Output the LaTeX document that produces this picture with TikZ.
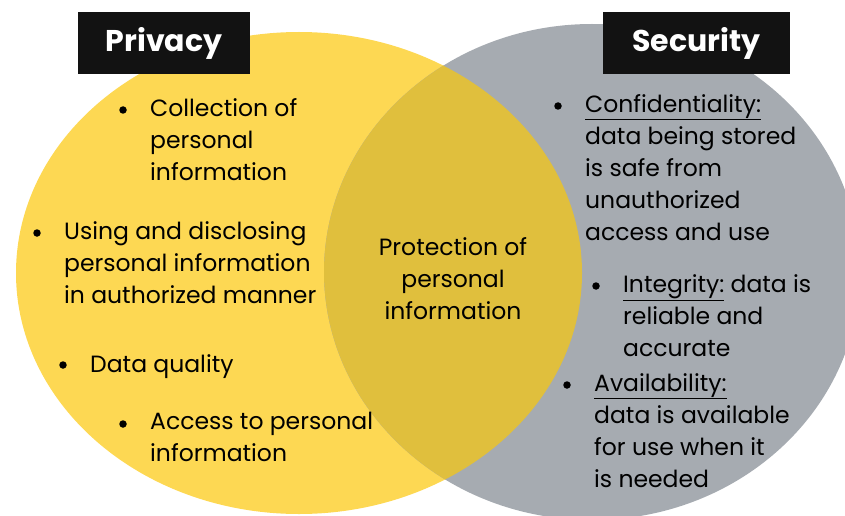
\documentclass[tikz,border=0pt]{standalone}
\usepackage{fontspec}
\setmainfont{Poppins}
\usepackage{xcolor}

\definecolor{privyellow}{HTML}{FDD853}
\definecolor{secgray}{HTML}{A6ABB1}
\definecolor{overlap}{HTML}{E0BF3D}
\definecolor{headblack}{HTML}{121212}

\newcommand{\bodyfont}{\fontsize{23.5}{32}\selectfont}
\newcommand{\headfont}{\fontsize{30}{36}\selectfont\bfseries}

\tikzset{
  head/.style={fill=headblack, text=white, font=\headfont, minimum height=62pt, inner sep=0pt},
  % first line gets a fixed height, so north sits 19pt above its baseline
  item/.style={anchor=north west, align=left, inner sep=0pt, font=\bodyfont,
    execute at begin node={\rule{0pt}{19pt}}},
  dotmark/.style={circle, fill=black, inner sep=0pt, minimum size=7.5pt}
}

\begin{document}
\begin{tikzpicture}[x=1pt,y=-1pt]
\useasboundingbox (0,0) rectangle (845,516);

% the two sets and their overlap
\fill[privyellow] (299,273) ellipse [x radius=283, y radius=241];
\fill[secgray] (592,272) ellipse [x radius=268, y radius=248];
\begin{scope}
\clip (299,273) ellipse [x radius=283, y radius=241];
\fill[overlap] (592,272) ellipse [x radius=268, y radius=248];
\end{scope}

% titles
\node[head, minimum width=172pt] (privacy) at (164,43) {Privacy};
\node[head, minimum width=187pt] (security) at (696.5,43) {Security};

% privacy side
\node[item] (collect) at (150,98) {Collection of\\personal\\information};
\node[item] (usedisc) at (64,221) {Using and disclosing\\personal information\\in authorized manner};
\node[item] (quality) at (90,353) {Data quality};
\node[item] (access) at (150,412) {Access to personal\\information};

% common part
\node[item, anchor=north, align=center] (protect) at (453,237) {Protection of\\personal\\information};

% security side
\node[item] (confid) at (585,94) {\underline{Confidentiality:}\\data being stored\\is safe from\\unauthorized\\access and use};
\node[item] (integ) at (623,274) {\underline{Integrity:} data is\\reliable and\\accurate};
\node[item] (avail) at (594,373) {\underline{Availability:}\\data is available\\for use when it\\is needed};

\foreach \n in {collect,usedisc,quality,access,confid,integ,avail}
  \node[dotmark] at ([xshift=-27pt,yshift=-12pt]\n.north west) {};
\end{tikzpicture}
\end{document}
